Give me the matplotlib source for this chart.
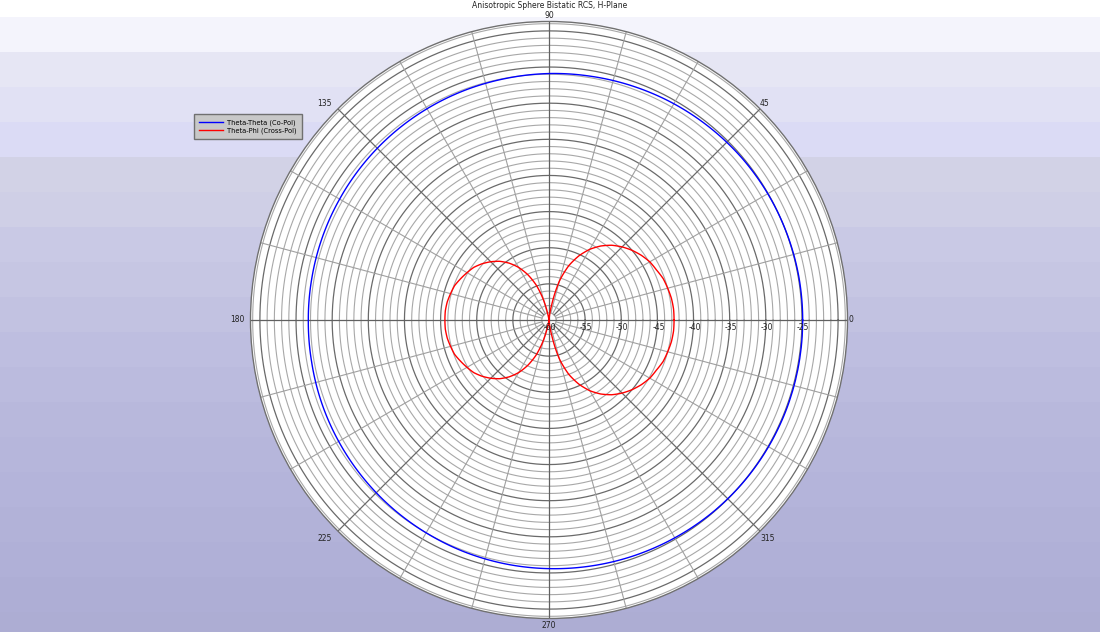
import numpy as np
import matplotlib
matplotlib.use("Agg")
import matplotlib.pyplot as plt
import matplotlib.transforms as mtransforms

# bistatic RCS, dBsm vs observation angle (deg)
co_ang = [0, 10, 20, 30, 40, 50, 60, 70, 80, 90, 100, 110, 120, 130, 140, 150, 160, 170,
          180, 190, 200, 210, 220, 230, 240, 250, 260, 270, 280, 290, 300, 310, 320, 330,
          340, 350, 360]
co_pol = [-24.9, -24.92, -24.98, -25.05, -25.15, -25.3, -25.45, -25.62, -25.78, -25.9,
          -26.05, -26.15, -26.25, -26.35, -26.45, -26.55, -26.62, -26.68, -26.7, -26.65,
          -26.52, -26.4, -26.27, -26.13, -26.0, -25.85, -25.72, -25.6, -25.47, -25.33,
          -25.2, -25.07, -24.98, -24.93, -24.9, -24.9, -24.9]

cx_ang = list(range(0, 365, 5))
cx_pol = [-42.7, -42.7, -42.8, -43.0, -43.2, -43.6, -43.9, -44.4, -45.0, -45.7, -46.5,
          -47.5, -48.7, -50.2, -52.0, -54.4, -57.9, -60, -60, -60, -60, -57.3, -54.9,
          -53.1, -51.6, -50.4, -49.4, -48.6, -47.9, -47.3, -46.9, -46.5, -46.1, -45.9,
          -45.7, -45.6, -45.6, -45.6, -45.7, -45.9, -46.1, -46.5, -46.9, -47.3, -47.9,
          -48.6, -49.4, -50.4, -51.6, -53.1, -54.9, -57.3, -60, -60, -60, -60, -57.9,
          -54.4, -52.0, -50.2, -48.7, -47.5, -46.5, -45.7, -45.0, -44.4, -43.9, -43.6,
          -43.2, -43.0, -42.8, -42.7, -42.7]

r_ticks = [-60, -55, -50, -45, -40, -35, -30, -25]
ang_ticks = [0, 45, 90, 135, 180, 225, 270, 315]

rmin, rmax = -60, -18.7

band_colors = ['#f4f4fc', '#e6e6f4', '#e1e1f4', '#dbdbf5', '#d2d2e6', '#cfcfe6',
               '#c9c9e5', '#c6c6e3', '#c2c2e1', '#bebee0', '#bbbbde', '#b8b8dc',
               '#b6b6db', '#b4b4da', '#b2b2d8', '#b0b0d7', '#aeaed5', '#adadd3']

fig = plt.figure(figsize=(11, 6.32), dpi=100)

# banded background
bg = fig.add_axes([0, 0, 1, 1])
bg.set_xlim(0, 1100)
bg.set_ylim(632, 0)
bg.axis('off')
for i, c in enumerate(band_colors):
    y0 = 17 + 35 * i
    bg.add_patch(plt.Rectangle((0, y0), 1100, 36, color=c, lw=0))

ax = fig.add_axes([250.5 / 1100, (312 - 298.5) / 632, 597 / 1100, 597 / 632],
                  projection='polar')
ax.set_facecolor('white')
ax.set_rlim(rmin, rmax)
ax.set_xticks([])
ax.set_yticks([])
ax.grid(False)
ax.spines['polar'].set_color('#707070')
ax.spines['polar'].set_linewidth(1.0)

tt = np.linspace(0, 2 * np.pi, 721)
for r in range(-59, -18):
    if r % 5 == 0:
        ax.plot(tt, np.full_like(tt, r), color='#6a6a6a', lw=0.9, zorder=1)
    else:
        ax.plot(tt, np.full_like(tt, r), color='#a8a8a8', lw=0.8, zorder=1)
for a in range(0, 360, 15):
    th = np.deg2rad(a)
    if a % 90 == 0:
        ax.plot([th, th], [rmin, rmax], color='#606060', lw=0.9, zorder=1)
    elif a % 45 == 0:
        ax.plot([th, th], [-59, rmax], color='#6a6a6a', lw=0.9, zorder=1)
    else:
        ax.plot([th, th], [-59, rmax], color='#a0a0a0', lw=0.8, zorder=1)

l1, = ax.plot(np.deg2rad(co_ang), co_pol, color='#0000ff', lw=1.0, zorder=3,
              label='Theta-Theta (Co-Pol)')
l2, = ax.plot(np.deg2rad(cx_ang), cx_pol, color='#ff0000', lw=1.0, zorder=3,
              label='Theta-Phi (Cross-Pol)')
# draw segments as curves in polar space rather than chords
for ln in (l1, l2):
    ln.get_path()._interpolation_steps = 30

# radial labels along 0 deg
for r in r_ticks:
    tr = mtransforms.offset_copy(ax.transData, fig=fig, x=1, y=-3, units='dots')
    ax.text(0, r, str(r), transform=tr, ha='center', va='top', fontsize=5.5,
            color='#222222', zorder=4)

# angle labels
pos = {0: ('left', 'center', 1, 0), 45: ('left', 'bottom', 0, 1),
       90: ('center', 'bottom', 0, 2), 135: ('right', 'bottom', -6, 1),
       180: ('right', 'center', -6, 0), 225: ('right', 'top', -6, -3),
       270: ('center', 'top', 0, -3), 315: ('left', 'top', 0, -3)}
for a in ang_ticks:
    ha, va, dx, dy = pos[a]
    tr = mtransforms.offset_copy(ax.transData, fig=fig, x=dx, y=dy, units='dots')
    ax.text(np.deg2rad(a), rmax, str(a), transform=tr, ha=ha, va=va, fontsize=5.5,
            color='#222222', clip_on=False)

fig.text(0.4995, 0.998, 'Anisotropic Sphere Bistatic RCS, H-Plane', ha='center', va='top',
         fontsize=5.5, color='#222222')

leg = fig.legend(loc='upper left', bbox_to_anchor=(194 / 1100, 1 - 114 / 632),
                 borderaxespad=0, fontsize=4.8, frameon=True, fancybox=False,
                 handlelength=3.6, borderpad=0.8, labelspacing=0.25, handletextpad=0.5)
leg.get_frame().set_facecolor('#c8c8c8')
leg.get_frame().set_edgecolor('#707070')
leg.get_frame().set_alpha(1)

fig.savefig('out.png', dpi=100)
